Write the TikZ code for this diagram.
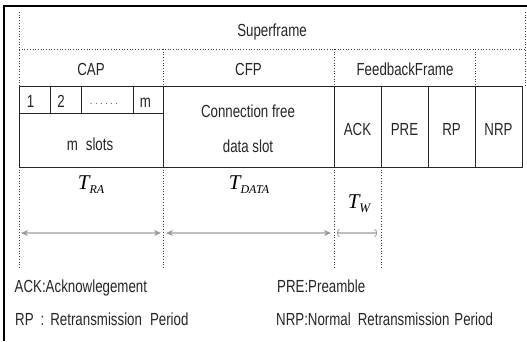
\documentclass[tikz,border=0pt]{standalone}
\usepackage{fontspec}
\setmainfont{Liberation Sans}[FakeStretch=0.76]
\newfontfamily\tms{Liberation Serif}
\usetikzlibrary{arrows.meta}
\begin{document}
\begin{tikzpicture}[x=1pt,y=-1pt,
  font=\fontsize{17.5}{20}\selectfont,
  dotline/.style={dotted, line width=0.7pt, black!75},
  boxline/.style={line width=0.9pt, black!85},
  txt/.style={inner sep=0pt, anchor=base, text=black!85},
  ltxt/.style={inner sep=0pt, anchor=base west, text=black!85},
  tlbl/.style={inner sep=0pt, anchor=base, font=\fontsize{21}{22}\selectfont\tms\itshape},
  tarrow/.style={gray!50, line width=1.2pt},
  tip/.tip={Stealth[open,length=7pt,width=6pt,color=gray!80,line width=1pt]}]
\useasboundingbox (0,0) rectangle (527,341);
% outer frame
\draw[line width=1.3pt] (4,341) -- (4,6) -- (527,6);
% dotted grid, upper part
\draw[dotline] (19,12) -- (19,86);
\draw[dotline] (525,12) -- (525,86);
\draw[dotline] (19,49) -- (525,49);
\foreach \x in {163,334,475} \draw[dotline] (\x,49) -- (\x,86);
% dotted grid, lower part
\foreach \x in {19,163,334,381} \draw[dotline] (\x,167) -- (\x,268);
% solid box row
\draw[boxline] (19,86) rectangle (522,167);
\foreach \x in {163,334,381,428,475} \draw[boxline] (\x,86) -- (\x,167);
\draw[boxline] (19,113) -- (163,113);
\foreach \x in {50,81,133} \draw[boxline] (\x,86) -- (\x,113);
% headings
\node[txt] (sf) at (272,36) {Superframe};
\node[txt] (cap) at (91,75) {CAP};
\node[txt] (cfp) at (248.5,75) {CFP};
\node[txt] (fb) at (405,75) {FeedbackFrame};
% slots
\node[txt] (s1) at (30.5,107) {1};
\node[txt] (s2) at (61,107) {2};
\node[txt] (sd) at (104,104) {\fontsize{10}{10}\selectfont .\hspace{3pt}.\hspace{3pt}.\hspace{3pt}.\hspace{3pt}.\hspace{3pt}.};
\node[txt] (sm) at (145.5,107) {m};
\node[txt] (ms) at (90,150) {m\hspace{8pt}slots};
\node[txt] (cf1) at (248,117) {Connection free};
\node[txt] (cf2) at (248,152) {data slot};
\node[txt] (ack) at (357.5,135) {ACK};
\node[txt] (pre) at (404.5,135) {PRE};
\node[txt] (rp) at (451.5,135) {RP};
\node[txt] (nrp) at (498.5,135) {NRP};
% time labels
\node[tlbl] (tra) at (91,189) {T\raisebox{-4pt}{\fontsize{12}{12}\selectfont RA}};
\node[tlbl] (tdata) at (249,189) {T\raisebox{-4pt}{\fontsize{12}{12}\selectfont DATA}};
\node[tlbl] (tw) at (359,208) {T\raisebox{-4pt}{\fontsize{13}{13}\selectfont W}};
% arrows
\coordinate (a1l) at (21,233); \coordinate (a1r) at (161,233);
\coordinate (a2l) at (166,233); \coordinate (a2r) at (331,233);
\coordinate (a3l) at (337,233); \coordinate (a3r) at (377,233);
\draw[tarrow, tip-tip] (a1l) -- (a1r);
\draw[tarrow, tip-tip] (a2l) -- (a2r);
\draw[tarrow, {Arc Barb[length=2.5pt,width=8pt,color=gray!80,line width=0.8pt]}-{Arc Barb[length=2.5pt,width=8pt,color=gray!80,line width=0.8pt]}] (a3l) -- (a3r);
% legend
\node[ltxt] (l1) at (14.5,292) {ACK:Acknowlegement};
\node[ltxt] (l2) at (277,292) {PRE:Preamble};
\node[ltxt] (l3) at (15,325) {RP\hspace{7pt}:\hspace{6pt}Retransmission\hspace{8pt}Period};
\node[ltxt] (l4) at (276,325) {NRP:Normal\hspace{7pt}Retransmission\hspace{5pt}Period};
\end{tikzpicture}
\end{document}
